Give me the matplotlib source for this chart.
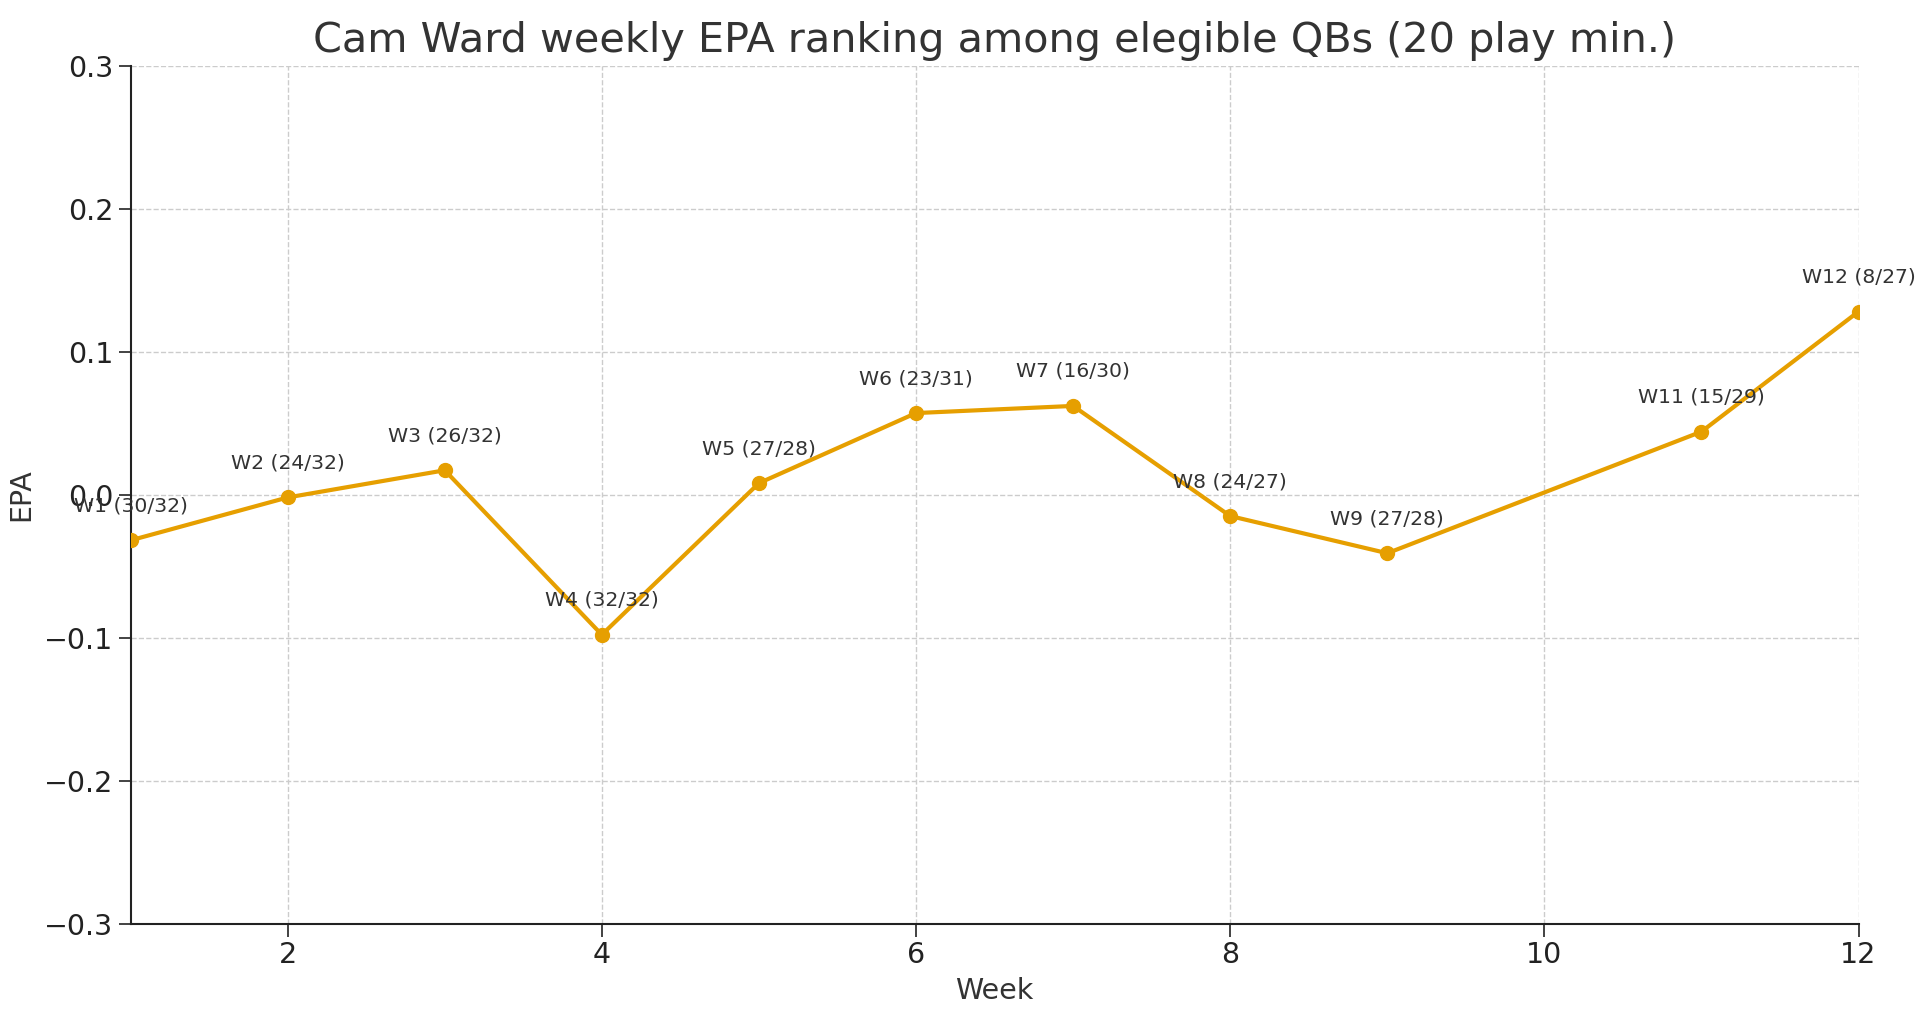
import matplotlib
matplotlib.use("Agg")
import matplotlib.pyplot as plt

# weekly EPA values (no week 10 data)
weeks = [1, 2, 3, 4, 5, 6, 7, 8, 9, 11, 12]
epa = [-0.032, -0.002, 0.017, -0.098, 0.008, 0.057, 0.062, -0.015, -0.041, 0.044, 0.128]
ranks = ["30/32", "24/32", "26/32", "32/32", "27/28", "23/31", "16/30",
         "24/27", "27/28", "15/29", "8/27"]

xticks = [2, 4, 6, 8, 10, 12]
yticks = [-0.3, -0.2, -0.1, 0.0, 0.1, 0.2, 0.3]

fig = plt.figure(figsize=(19.2, 10.24), dpi=100)
ax = fig.add_axes([0.068, 0.098, 0.900, 0.838])

ax.plot(weeks, epa, color="#E69F00", linewidth=3, marker="o",
        markersize=10, zorder=3)

for w, v, r in zip(weeks, epa, ranks):
    ax.annotate(f"W{w} ({r})", (w, v), textcoords="offset points",
                xytext=(0, 18), ha="center", va="bottom",
                fontsize=14.7, color="#333333")

ax.set_xlim(1, 12)
ax.set_ylim(-0.3, 0.3)
ax.set_xticks(xticks)
ax.set_yticks(yticks)
ax.tick_params(labelsize=20.5, length=9, width=1.2, colors="#222222")

ax.grid(True, linestyle="--", color="#cccccc", linewidth=1)
ax.set_axisbelow(True)
for side in ["top", "right"]:
    ax.spines[side].set_visible(False)
for side in ["left", "bottom"]:
    ax.spines[side].set_linewidth(1.5)
    ax.spines[side].set_color("#222222")

ax.set_title("Cam Ward weekly EPA ranking among elegible QBs (20 play min.)",
             fontsize=29.8, color="#333333", pad=10)
ax.set_xlabel("Week", fontsize=20.5, color="#333333", labelpad=6)
ax.set_ylabel("EPA", fontsize=20.5, color="#333333", labelpad=6)

fig.savefig("out.png", dpi=100)
